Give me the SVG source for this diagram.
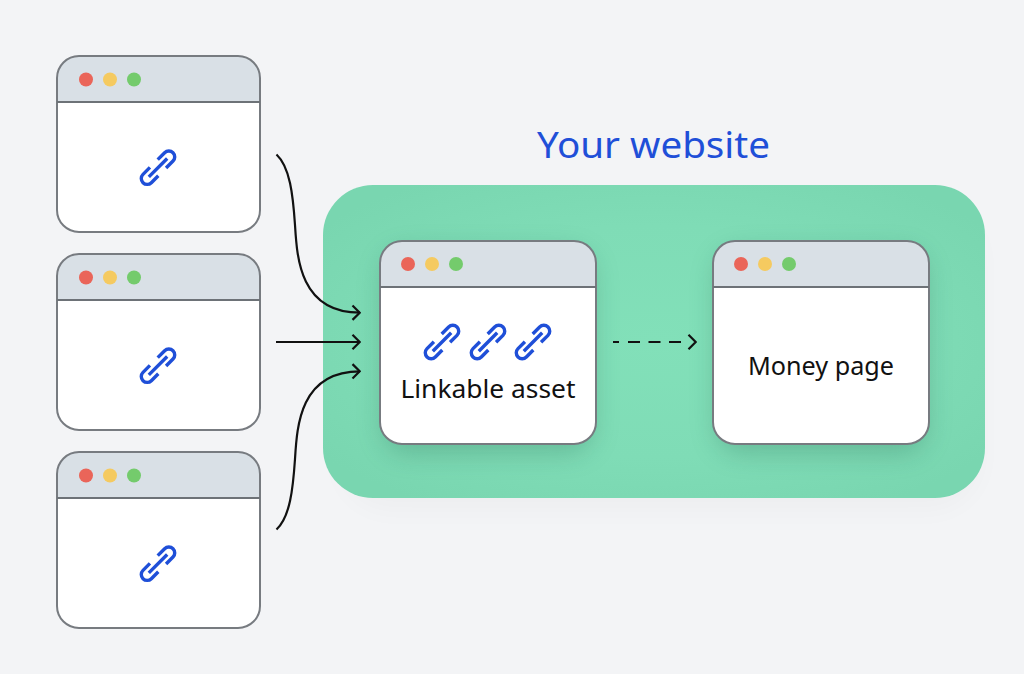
<svg xmlns="http://www.w3.org/2000/svg" width="1024" height="674" viewBox="0 0 1024 674">
<style>
.frame{fill:#fff}
.head{fill:#d9e0e6}
.outline{fill:none;stroke:#777b80;stroke-width:2}
.sep{stroke:#6d7277;stroke-width:2}
.r{fill:#ea6559}.y{fill:#f5ca60}.g{fill:#74cb6c}
.conn{fill:none;stroke:#111;stroke-width:2.200}
.txt{font-family:"Noto Sans","Open Sans","Liberation Sans",sans-serif}
</style>
<defs>
<radialGradient id="gb" cx="0.5" cy="0.5" r="0.62">
<stop offset="0" stop-color="#82e0b9"/><stop offset="0.6" stop-color="#7fdcb6"/><stop offset="1" stop-color="#79d6b0"/>
</radialGradient>
<filter id="sh" x="-30%" y="-30%" width="160%" height="170%"><feGaussianBlur stdDeviation="14"/></filter>
<g id="link" transform="rotate(-45)">
<path fill="none" stroke="#1f4fd8" stroke-width="3.400" d="M5.500 -5.900H15.300A5.900 5.900 0 0 1 15.300 5.900H5.500M-5.500 -5.900H-15.300A5.900 5.900 0 0 0 -15.300 5.900H-5.500M-13 0H13"/>
</g>
<marker id="ah" viewBox="0 0 12 18" refX="11" refY="9" markerWidth="12" markerHeight="18" markerUnits="userSpaceOnUse" orient="auto">
<path d="M3.500 1.800L10.700 9L3.500 16.200" fill="none" stroke="#111" stroke-width="2.200"/>
</marker>
</defs>
<rect width="1024" height="674" fill="#f3f4f6"/>
<rect x="340" y="210" width="640" height="300" rx="50" fill="#000" opacity="0.025" filter="url(#sh)"/>
<g id="your-website">
<rect x="323" y="185" width="662" height="313" rx="50" fill="url(#gb)"/>
<text class="txt" x="537" y="158" font-size="37" fill="#1f4fd8" textLength="233" lengthAdjust="spacingAndGlyphs">Your website</text>
</g>
<g id="source-1">
<path class="frame" d="M57 102H260V210a22 22 0 0 1-22 22H79a22 22 0 0 1-22-22Z"/>
<path class="head" d="M79 56H238a22 22 0 0 1 22 22V102H57V78a22 22 0 0 1 22-22Z"/>
<rect class="outline" x="57" y="56" width="203" height="176" rx="22"/>
<line class="sep" x1="57" y1="102" x2="260" y2="102"/>
<circle class="r" cx="86" cy="79.500" r="7"/><circle class="y" cx="110" cy="79.500" r="7"/><circle class="g" cx="134" cy="79.500" r="7"/>
<use href="#link" x="158" y="167.700"/>
</g>
<g id="source-2">
<path class="frame" d="M57 300H260V408a22 22 0 0 1-22 22H79a22 22 0 0 1-22-22Z"/>
<path class="head" d="M79 254H238a22 22 0 0 1 22 22V300H57V276a22 22 0 0 1 22-22Z"/>
<rect class="outline" x="57" y="254" width="203" height="176" rx="22"/>
<line class="sep" x1="57" y1="300" x2="260" y2="300"/>
<circle class="r" cx="86" cy="277.500" r="7"/><circle class="y" cx="110" cy="277.500" r="7"/><circle class="g" cx="134" cy="277.500" r="7"/>
<use href="#link" x="158" y="365.700"/>
</g>
<g id="source-3">
<path class="frame" d="M57 498H260V606a22 22 0 0 1-22 22H79a22 22 0 0 1-22-22Z"/>
<path class="head" d="M79 452H238a22 22 0 0 1 22 22V498H57V474a22 22 0 0 1 22-22Z"/>
<rect class="outline" x="57" y="452" width="203" height="176" rx="22"/>
<line class="sep" x1="57" y1="498" x2="260" y2="498"/>
<circle class="r" cx="86" cy="475.500" r="7"/><circle class="y" cx="110" cy="475.500" r="7"/><circle class="g" cx="134" cy="475.500" r="7"/>
<use href="#link" x="158" y="563.700"/>
</g>
<g id="linkable-asset">
<rect x="384" y="252" width="208" height="200" rx="22" fill="#1d5a45" opacity="0.28" filter="url(#sh)"/>
<path class="frame" d="M380 287H596V422a22 22 0 0 1-22 22H402a22 22 0 0 1-22-22Z"/>
<path class="head" d="M402 241H574a22 22 0 0 1 22 22V287H380V263a22 22 0 0 1 22-22Z"/>
<rect class="outline" x="380" y="241" width="216" height="203" rx="22"/>
<line class="sep" x1="380" y1="287" x2="596" y2="287"/>
<circle class="r" cx="408" cy="264" r="7"/><circle class="y" cx="432" cy="264" r="7"/><circle class="g" cx="456" cy="264" r="7"/>
<use href="#link" x="442" y="342"/>
<use href="#link" x="488" y="342"/>
<use href="#link" x="533" y="342"/>
<text class="txt" x="400.500" y="398" font-size="25" fill="#111" textLength="175" lengthAdjust="spacingAndGlyphs">Linkable asset</text>
</g>
<g id="money-page">
<rect x="717" y="252" width="208" height="200" rx="22" fill="#1d5a45" opacity="0.28" filter="url(#sh)"/>
<path class="frame" d="M713 287H929V422a22 22 0 0 1-22 22H735a22 22 0 0 1-22-22Z"/>
<path class="head" d="M735 241H907a22 22 0 0 1 22 22V287H713V263a22 22 0 0 1 22-22Z"/>
<rect class="outline" x="713" y="241" width="216" height="203" rx="22"/>
<line class="sep" x1="713" y1="287" x2="929" y2="287"/>
<circle class="r" cx="741" cy="264" r="7"/><circle class="y" cx="765" cy="264" r="7"/><circle class="g" cx="789" cy="264" r="7"/>
<text class="txt" x="748" y="375" font-size="25" fill="#111" textLength="146" lengthAdjust="spacingAndGlyphs">Money page</text>
</g>
<g id="connectors">
<path class="conn" marker-end="url(#ah)" d="M276.500 154.500C290 167 293 195 295 225C297 258 300 312.700 360 312.700"/>
<path class="conn" marker-end="url(#ah)" d="M276 342H360"/>
<path class="conn" marker-end="url(#ah)" d="M276.500 529.500C290 517 293 489 295 459C297 426 300 371.300 360 371.300"/>
<path class="conn" marker-end="url(#ah)" stroke-dasharray="6 9 12 8.500 12 8.500 12 16" d="M613 342H696"/>
</g>
</svg>
